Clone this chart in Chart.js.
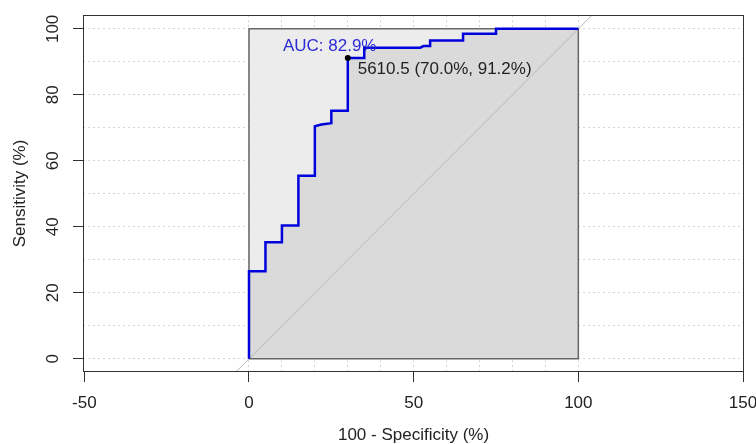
<!DOCTYPE html>
<html>
<head>
<meta charset="utf-8">
<script src="https://cdn.jsdelivr.net/npm/chart.js@4/dist/chart.umd.min.js"></script>
<style>
  body { margin: 0; background: #fff; }
  canvas { display: block; }
</style>
</head>
<body>
<canvas id="roc" width="756" height="444"></canvas>
<script>
// ROC curve, x = 100 - specificity, y = sensitivity (both in %)
const rocX = [0, 0, 5, 5, 10, 10, 15, 15, 20, 20, 22, 25, 25, 30, 30, 35, 35, 52, 53, 55, 55, 65, 65, 75, 75, 100];
const rocY = [0, 26.5, 26.5, 35.3, 35.3, 40.4, 40.4, 55.5, 55.5, 70.5, 71, 71.4, 75.2, 75.2, 91.2, 91.2, 94.3, 94.3, 94.8, 94.8, 96.5, 96.5, 98.5, 98.5, 100, 100];

// best threshold
const thresX = [30];
const thresY = [91.2];
const thresLabel = '5610.5 (70.0%, 91.2%)';
const aucLabel = 'AUC: 82.9%';

// axes
const xTickValues = [-50, 0, 50, 100, 150];
const yTickValues = [0, 20, 40, 60, 80, 100];
const gridValues = [0, 10, 20, 30, 40, 50, 60, 70, 80, 90, 100];

const pts = (xs, ys) => xs.map((x, i) => ({ x: x, y: ys[i] }));

Chart.defaults.font.family = '"Liberation Sans", Arial, sans-serif';
Chart.defaults.font.size = 17;
Chart.defaults.color = '#222';

// frame round the plot region + the two text labels
const extras = {
  id: 'extras',
  afterDatasetsDraw(chart) {
    const ctx = chart.ctx;
    const xs = chart.scales.x, ys = chart.scales.y;
    ctx.save();
    ctx.font = '17px "Liberation Sans", Arial, sans-serif';
    ctx.textBaseline = 'middle';
    ctx.fillStyle = '#2b2bd6';
    ctx.textAlign = 'center';
    ctx.fillText(aucLabel, xs.getPixelForValue(24.5), ys.getPixelForValue(94.8));
    ctx.fillStyle = '#222';
    ctx.textAlign = 'left';
    ctx.fillText(thresLabel, xs.getPixelForValue(33), ys.getPixelForValue(87.6));
    ctx.restore();
  },
  afterDraw(chart) {
    const a = chart.chartArea;
    const ctx = chart.ctx;
    ctx.save();
    ctx.strokeStyle = '#333';
    ctx.lineWidth = 1;
    ctx.strokeRect(a.left + 0.5, a.top + 0.5, a.right - a.left - 1, a.bottom - a.top - 1);
    ctx.restore();
  }
};

new Chart(document.getElementById('roc'), {
  type: 'line',
  data: {
    datasets: [
      { // threshold point
        data: pts(thresX, thresY), order: 0,
        showLine: false, pointRadius: 3, pointBackgroundColor: '#000', pointBorderWidth: 0
      },
      { // ROC curve
        data: pts(rocX, rocY), order: 1,
        borderColor: '#0000dd', borderWidth: 2.5, pointRadius: 0, fill: false
      },
      { // square outline
        data: pts([0, 0, 100, 100, 0], [0, 100, 100, 0, 0]), order: 2,
        borderColor: '#666', borderWidth: 1.5, pointRadius: 0, fill: false
      },
      { // identity line
        data: pts([-10, 110], [-10, 110]), order: 3,
        borderColor: '#b8b8b8', borderWidth: 1, pointRadius: 0, fill: false
      },
      { // area under the curve
        data: pts(rocX, rocY), order: 4,
        borderWidth: 0, pointRadius: 0, fill: 'origin', backgroundColor: '#dadada'
      },
      { // max AUC square
        data: pts([0, 100], [100, 100]), order: 5,
        borderWidth: 0, pointRadius: 0, fill: 'origin', backgroundColor: '#ececec'
      }
    ]
  },
  options: {
    responsive: false,
    animation: false,
    devicePixelRatio: 1,
    layout: { padding: { top: 15, right: 12, left: 0, bottom: 0 } },
    plugins: { legend: { display: false }, tooltip: { enabled: false } },
    scales: {
      x: {
        type: 'linear', min: -50.4, max: 150.3,
        afterBuildTicks: s => { s.ticks = [-50].concat(gridValues, [150]).map(v => ({ value: v })); },
        afterFit: s => { s.height = 72; s.paddingLeft = 0; s.paddingRight = 0; },
        ticks: {
          padding: 11, maxRotation: 0,
          callback: v => xTickValues.includes(v) ? String(v) : ''
        },
        grid: {
          color: c => (c.tick && gridValues.includes(c.tick.value)) ? '#d4d4d4' : 'rgba(0,0,0,0)',
          tickColor: c => (c.tick && xTickValues.includes(c.tick.value)) ? '#333' : 'rgba(0,0,0,0)',
          tickLength: 10, tickBorderDash: [1, 0], lineWidth: 1
        },
        border: { display: false, dash: [2, 3] },
        title: { display: true, text: '100 - Specificity (%)', font: { size: 17, lineHeight: 1 }, padding: { top: 0, bottom: 0 }, color: '#222' }
      },
      y: {
        type: 'linear', min: -4, max: 104.2,
        afterBuildTicks: s => { s.ticks = gridValues.map(v => ({ value: v })); },
        afterFit: s => { s.width = 83; s.paddingTop = 0; s.paddingBottom = 0; },
        ticks: {
          padding: 6, minRotation: 90, maxRotation: 90, crossAlign: 'center',
          callback: v => yTickValues.includes(v) ? String(v) : ''
        },
        grid: {
          color: '#d4d4d4',
          tickColor: c => (c.tick && yTickValues.includes(c.tick.value)) ? '#333' : 'rgba(0,0,0,0)',
          tickLength: 10, tickBorderDash: [1, 0], lineWidth: 1
        },
        border: { display: false, dash: [2, 3] },
        title: { display: true, text: 'Sensitivity (%)', font: { size: 17, lineHeight: 1 }, padding: { top: 11.5, bottom: 0 }, color: '#222' }
      }
    }
  },
  plugins: [extras]
});
</script>
</body>
</html>
